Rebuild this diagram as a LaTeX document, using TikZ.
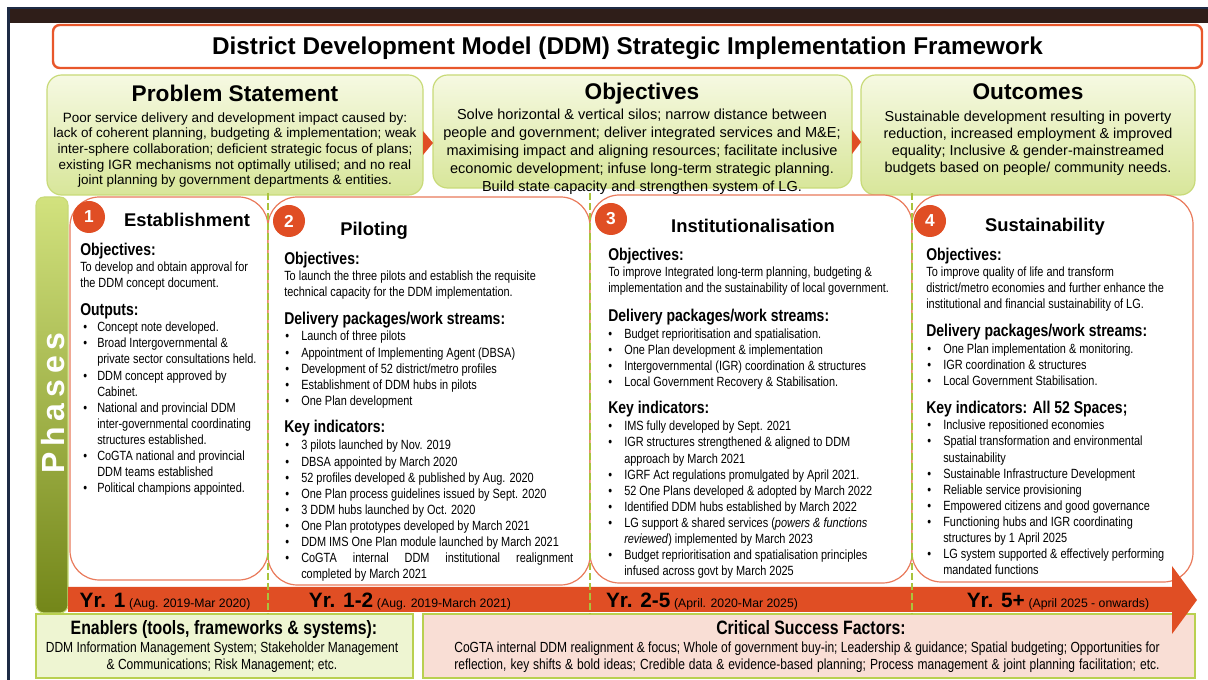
\documentclass[tikz,border=0pt]{standalone}
\usepackage{fontspec}
\setmainfont{Liberation Sans}
\newfontfamily\narrow[FakeStretch=0.82]{Liberation Sans}
\newfontfamily\phasefont[LetterSpace=18]{Liberation Sans}
\usetikzlibrary{positioning}

\definecolor{ddmred}{HTML}{E04E24}
\definecolor{cardline}{HTML}{E97A5B}
\definecolor{titleline}{HTML}{E8572B}
\definecolor{boxline}{HTML}{C8DA78}
\definecolor{boxtop}{HTML}{F6F9E2}
\definecolor{boxbot}{HTML}{D8E69A}
\definecolor{dashgreen}{HTML}{A9C43C}
\definecolor{enabfill}{HTML}{EEF5D2}
\definecolor{csffill}{HTML}{F9DED5}
\definecolor{bottomline}{HTML}{B9D050}
\definecolor{framenavy}{HTML}{1E2B45}
\definecolor{framebrown}{HTML}{2F1E19}
\definecolor{phasetop}{HTML}{D2E27E}
\definecolor{phasemid}{HTML}{A9BF3E}
\definecolor{phasebot}{HTML}{738619}

\newlength\bulw \setlength\bulw{12pt}
\newcommand\bl{\makebox[\bulw][l]{\textbullet}}
\newcommand\cl{\hspace*{\bulw}}
\newcommand\yrfont{\bfseries\fontsize{15.6}{16}\selectfont}
\newcommand\perfont{\mdseries\fontsize{9.2}{10}\selectfont}

% multi-line nodes sit on the baseline of their last line
\tikzset{
  topbox/.style={rounded corners=11pt, draw=boxline, line width=0.9pt, top color=boxtop, bottom color=boxbot},
  card/.style={rounded corners=22pt, draw=cardline, line width=0.9pt, fill=white},
  numdot/.style={circle, fill=ddmred, text=white, inner sep=0pt, minimum size=24pt,
    font=\bfseries\fontsize{13}{13}\selectfont},
  phasehd/.style={anchor=base, inner sep=0pt, font=\bfseries\fontsize{13.8}{14}\selectfont},
  tophd/.style={anchor=base, inner sep=0pt, font=\bfseries\fontsize{17}{18}\selectfont},
  topbody/.style={anchor=base, inner sep=0pt, align=center},
  subhd/.style={anchor=base west, inner sep=0pt, font=\narrow\bfseries\fontsize{12.8}{14}\selectfont},
  txt/.style={anchor=base west, inner sep=0pt, align=left, font=\narrow\fontsize{10}{12.1}\selectfont},
  yrlabel/.style={anchor=base, inner sep=0pt},
  bothd/.style={anchor=base, inner sep=0pt, font=\narrow\bfseries\fontsize{14.5}{15}\selectfont},
  botbody/.style={anchor=base, inner sep=0pt, align=center, font=\narrow\fontsize{11}{12.75}\selectfont},
  phaseline/.style={draw=dashgreen, line width=1.5pt, dash pattern=on 5pt off 2.5pt}
}

\begin{document}
\begin{tikzpicture}[x=0.75pt,y=-0.75pt]
\useasboundingbox (0,0) rectangle (1208,680);

% frame
\fill[framebrown] (7,8) rectangle (1208,23);
\draw[framenavy, line width=1.2pt] (7,8) -- (1208,8);
\fill[framenavy] (7,8) rectangle (9.5,680);

% title
\draw[draw=titleline, line width=1.8pt, fill=white, rounded corners=5pt] (53,25) rectangle (1202,68);
\node[anchor=base, inner sep=0pt, font=\bfseries\fontsize{18.2}{20}\selectfont] (title) at (627.5,55)
  {District Development Model (DDM) Strategic Implementation Framework};

% problem / objectives / outcomes
\draw[topbox] (47,75) rectangle (423,195);
\draw[topbox] (433,75) rectangle (852,188);
\draw[topbox] (861,75) rectangle (1195,195);
\fill[ddmred] (423,131) -- (433,143) -- (423,155) -- cycle;
\fill[ddmred] (852,130) -- (861,142) -- (852,154) -- cycle;

\node[tophd] (probhd) at (235,102) {Problem Statement};
\node[topbody, font=\fontsize{10.1}{11.8}\selectfont] (probtxt) at (235,185)
  {Poor service delivery and development impact caused by:\\
   lack of coherent planning, budgeting \& implementation; weak\\
   inter-sphere collaboration; deficient strategic focus of plans;\\
   existing IGR mechanisms not optimally utilised; and no real\\
   joint planning by government departments \& entities.};
\node[tophd] (objhd) at (642,100) {Objectives};
\node[topbody, font=\fontsize{10.9}{13.5}\selectfont] (objtxt) at (642,192)
  {Solve horizontal \& vertical silos; narrow distance between\\
   people and government; deliver integrated services and M\&E;\\
   maximising impact and aligning resources; facilitate inclusive\\
   economic development; infuse long-term strategic planning.\\
   Build state capacity and strengthen system of LG.};
\node[tophd] (outhd) at (1028,100) {Outcomes};
\node[topbody, font=\fontsize{10.8}{12.75}\selectfont] (outtxt) at (1028,173)
  {Sustainable development resulting in poverty\\
   reduction, increased employment \& improved\\
   equality; Inclusive \& gender-mainstreamed\\
   budgets based on people/ community needs.};

% phases bar
\draw[draw=boxline, line width=0.8pt, rounded corners=6pt, top color=phasetop, middle color=phasemid, bottom color=phasebot]
  (36,197) rectangle (68,613);
\node[rotate=90, text=white, inner sep=0pt, font=\phasefont\bfseries\fontsize{24}{24}\selectfont] (phases) at (53,403) {Phases};

% phase cards
\draw[card] (70,197) rectangle (268,580);
\draw[card] (268,197) rectangle (590,585);
\draw[card] (590,195) rectangle (912,583);
\draw[card] (912,195) rectangle (1193,582);
\foreach \n/\cx/\cy in {1/89/217, 2/289/221, 3/611/219, 4/930/221}
  \node[numdot] (num\n) at (\cx,\cy) {\n};
\node[phasehd] (ttlA) at (187,227) {Establishment};
\node[phasehd] (ttlB) at (374,236) {Piloting};
\node[phasehd] (ttlC) at (753,233) {Institutionalisation};
\node[phasehd] (ttlD) at (1045,232) {Sustainability};

% 1 establishment
\node[subhd] (objA) at (80,256) {Objectives:};
\node[txt] (objtxtA) at (80,288) {To develop and obtain approval for\\the DDM concept document.};
\node[subhd] (outA) at (80,316) {Outputs:};
\node[txt, execute at begin node={\setlength\bulw{10.5pt}}] (listA) at (83,493)
  {\bl Concept note developed.\\
   \bl Broad Intergovernmental \&\\
   \cl private sector consultations held.\\
   \bl DDM concept approved by\\
   \cl Cabinet.\\
   \bl National and provincial DDM\\
   \cl inter-governmental coordinating\\
   \cl structures established.\\
   \bl CoGTA national and provincial\\
   \cl DDM teams established\\
   \bl Political champions appointed.};

% 2 piloting
\node[subhd] (objB) at (284,265) {Objectives:};
\node[txt] (objtxtB) at (284,297) {To launch the three pilots and establish the requisite\\technical capacity for the DDM implementation.};
\node[subhd] (delB) at (284,325) {Delivery packages/work streams:};
\node[txt] (delistB) at (285,405.5)
  {\bl Launch of three pilots\\
   \bl Appointment of Implementing Agent (DBSA)\\
   \bl Development of 52 district/metro profiles\\
   \bl Establishment of DDM hubs in pilots\\
   \bl One Plan development};
\node[subhd] (keyB) at (284,433) {Key indicators:};
\node[txt] (keylistB) at (285,579)
  {\bl 3 pilots launched by Nov. 2019\\
   \bl DBSA appointed by March 2020\\
   \bl 52 profiles developed \& published by Aug. 2020\\
   \bl One Plan process guidelines issued by Sept. 2020\\
   \bl 3 DDM hubs launched by Oct. 2020\\
   \bl One Plan prototypes developed by March 2021\\
   \bl DDM IMS One Plan module launched by March 2021\\
   \bl \makebox[204pt][s]{CoGTA internal DDM institutional realignment}\\
   \cl completed by March 2021};

% 3 institutionalisation
\node[subhd] (objC) at (608,261) {Objectives:};
\node[txt] (objtxtC) at (608,293) {To improve Integrated long-term planning, budgeting \&\\implementation and the sustainability of local government.};
\node[subhd] (delC) at (608,322) {Delivery packages/work streams:};
\node[txt] (delistC) at (608,386.5)
  {\bl Budget reprioritisation and spatialisation.\\
   \bl One Plan development \& implementation\\
   \bl Intergovernmental (IGR) coordination \& structures\\
   \bl Local Government Recovery \& Stabilisation.};
\node[subhd] (keyC) at (608,414) {Key indicators:};
\node[txt] (keylistC) at (608,576)
  {\bl IMS fully developed by Sept. 2021\\
   \bl IGR structures strengthened \& aligned to DDM\\
   \cl approach by March 2021\\
   \bl IGRF Act regulations promulgated by April 2021.\\
   \bl 52 One Plans developed \& adopted by March 2022\\
   \bl Identified DDM hubs established by March 2022\\
   \bl LG support \& shared services (\textit{powers \& functions}\\
   \cl \textit{reviewed}) implemented by March 2023\\
   \bl Budget reprioritisation and spatialisation principles\\
   \cl infused across govt by March 2025};

% 4 sustainability
\node[subhd] (objD) at (926,261) {Objectives:};
\node[txt] (objtxtD) at (926,309) {To improve quality of life and transform\\district/metro economies and further enhance the\\institutional and financial sustainability of LG.};
\node[subhd] (delD) at (926,337) {Delivery packages/work streams:};
\node[txt] (delistD) at (927,385.5)
  {\bl One Plan implementation \& monitoring.\\
   \bl IGR coordination \& structures\\
   \bl Local Government Stabilisation.};
\node[subhd] (keyD) at (926,414) {Key indicators: All 52 Spaces;};
\node[txt] (keylistD) at (927,575)
  {\bl Inclusive repositioned economies\\
   \bl Spatial transformation and environmental\\
   \cl sustainability\\
   \bl Sustainable Infrastructure Development\\
   \bl Reliable service provisioning\\
   \bl Empowered citizens and good governance\\
   \bl Functioning hubs and IGR coordinating\\
   \cl structures by 1 April 2025\\
   \bl LG system supported \& effectively performing\\
   \cl mandated functions};

% enablers and success factors
\draw[draw=bottomline, line width=1.4pt, fill=enabfill] (36,614) rectangle (413,678);
\draw[draw=bottomline, line width=1.4pt, fill=csffill] (423,614) rectangle (1195,678);
\node[bothd] (enabhd) at (224,635) {Enablers (tools, frameworks \& systems):};
\node[botbody] (enabtxt) at (222,670)
  {DDM Information Management System; Stakeholder Management\\\& Communications; Risk Management; etc.};
\node[bothd] (csfhd) at (811,635) {Critical Success Factors:};
\node[botbody] (csftxt) at (807,670)
  {\makebox[529pt][s]{CoGTA internal DDM realignment \& focus; Whole of government buy-in; Leadership \& guidance; Spatial budgeting; Opportunities for}\\
   \makebox[529pt][s]{reflection, key shifts \& bold ideas; Credible data \& evidence-based planning; Process management \& joint planning facilitation; etc.}};

% timeline arrow
\fill[ddmred] (68,587) -- (1172,587) -- (1172,566) -- (1197,600) -- (1172,634) -- (1172,612) -- (68,612) -- cycle;
\foreach \px/\yr/\per [count=\i] in {165/1/{Aug. 2019-Mar 2020}, 410/1-2/{Aug. 2019-March 2021},
    702/2-5/{April. 2020-Mar 2025}, 1058/5+/{April 2025 - onwards}}
  \node[yrlabel] (yr\i) at (\px,608) {{\yrfont Yr. \yr} {\perfont (\per)}};

\foreach \dx in {268,590,912}
  \draw[phaseline] (\dx,193) -- (\dx,614);
\end{tikzpicture}
\end{document}
